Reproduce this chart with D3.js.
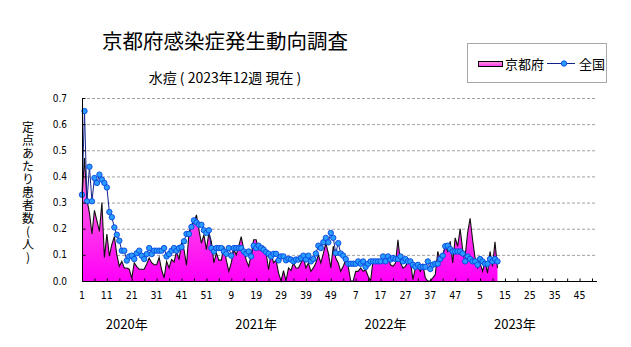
<!DOCTYPE html>
<html><head><meta charset="utf-8">
<script src="https://cdn.jsdelivr.net/npm/d3@7/dist/d3.min.js"></script>
<style>
body{margin:0;background:#fff}
svg{display:block}
.cjk{font-family:"Noto Sans CJK JP","Noto Sans",sans-serif}
.num{font-family:"Liberation Sans Narrow","DejaVu Sans Condensed","DejaVu Sans",sans-serif;font-stretch:condensed}
.vert{writing-mode:vertical-rl;text-orientation:upright}
</style>
</head><body>
<svg id="chart" width="631" height="347"></svg>
<script>
// ---- data ----
const titleText = "京都府感染症発生動向調査";
const subtitleText = "水痘 ( 2023年12週 現在 )";
const yAxisTitle = "定点あたり患者数(人)";
const seriesNames = ["京都府", "全国"];
const years = ["2020年", "2021年", "2022年", "2023年"];
const weeksPerYear = 52;
const yTickValues = [0, 0.1, 0.2, 0.3, 0.4, 0.5, 0.6, 0.7];

// 京都府 (weekly, from 2020 week 1)
const kyoto = [
  0.32,0.47,0.31,0.26,0.18,0.27,0.23,0.19,0.30,0.09,
  0.18,0.095,0.14,0.17,0.10,0.056,0.075,0.05,0.05,0.045,
  0.01,0.07,0.055,0.045,0.045,0.045,0.065,0.088,0.07,0.062,
  0.062,0.09,0.043,0.012,0.075,0.05,0.082,0.073,0.113,0.082,
  0.145,0.12,0.06,0.184,0.216,0.225,0.253,0.195,0.145,0.177,
  0.12,0.184,0.15,0.069,0.107,0.08,0.08,0.133,0.08,0.037,
  0.069,0.12,0.10,0.133,0.17,0.12,0.08,0.056,0.10,0.158,
  0.158,0.12,0.125,0.133,0.107,0.043,0.107,0.069,0.08,0.03,
  0.0,0.04,0.0,0.05,0.04,0.069,0.05,0.05,0.069,0.088,
  0.05,0.069,0.037,0.05,0.069,0.10,0.069,0.105,0.145,0.107,
  0.05,0.133,0.088,0.069,0.037,0.056,0.08,0.056,0.0,0.0,
  0.037,0.037,0.05,0.037,0.043,0.018,0.0,0.08,0.075,0.075,
  0.075,0.08,0.075,0.094,0.062,0.056,0.069,0.158,0.069,0.05,
  0.056,0.075,0.075,0.005,0.05,0.05,0.037,0.062,0.012,0.0,
  0.0,0.012,0.025,0.113,0.08,0.10,0.133,0.113,0.152,0.069,
  0.165,0.133,0.20,0.12,0.095,0.184,0.24,0.158,0.088,0.05,
  0.069,0.037,0.075,0.03,0.113,0.056,0.15,0.05
];

// 全国 (weekly, from 2020 week 1)
const national = [
  0.33,0.65,0.305,0.437,0.305,0.394,0.375,0.407,0.388,0.375,
  0.358,0.264,0.244,0.205,0.177,0.154,0.116,0.116,0.078,0.094,
  0.097,0.084,0.106,0.116,0.097,0.084,0.103,0.126,0.103,0.116,
  0.116,0.116,0.116,0.126,0.094,0.103,0.116,0.126,0.116,0.126,
  0.13,0.152,0.18,0.18,0.207,0.232,0.224,0.215,0.215,0.194,
  0.184,0.194,0.126,0.113,0.126,0.126,0.126,0.113,0.104,0.126,
  0.097,0.126,0.126,0.126,0.126,0.113,0.104,0.113,0.094,0.135,
  0.126,0.135,0.126,0.12,0.11,0.104,0.094,0.104,0.104,0.079,
  0.094,0.094,0.079,0.085,0.082,0.075,0.082,0.082,0.088,0.097,
  0.082,0.097,0.075,0.084,0.105,0.135,0.126,0.148,0.165,0.148,
  0.184,0.165,0.107,0.145,0.105,0.097,0.084,0.066,0.066,0.066,
  0.066,0.075,0.066,0.075,0.054,0.066,0.075,0.075,0.075,0.075,
  0.075,0.094,0.075,0.094,0.082,0.088,0.084,0.084,0.094,0.075,
  0.084,0.075,0.075,0.062,0.054,0.062,0.054,0.054,0.054,0.075,
  0.046,0.062,0.066,0.066,0.084,0.097,0.133,0.135,0.122,0.113,
  0.113,0.113,0.113,0.105,0.075,0.094,0.084,0.075,0.075,0.062,
  0.084,0.075,0.066,0.066,0.084,0.075,0.084,0.075
];

// ---- layout ----
const plot = {left: 82, right: 597, top: 98, bottom: 281};
const totalSlots = 207;

const svg = d3.select("#chart");
const x = d3.scaleLinear().domain([0, totalSlots]).range([plot.left, plot.right]);
const y = d3.scaleLinear().domain([0, 0.7]).range([plot.bottom, plot.top]);

// gradients
const defs = svg.append("defs");
const grad = defs.append("linearGradient").attr("id", "kg")
  .attr("gradientUnits", "userSpaceOnUse")
  .attr("x1", 0).attr("x2", 0).attr("y1", plot.top).attr("y2", plot.bottom);
grad.append("stop").attr("offset", "0%").attr("stop-color", "#ffb0e0");
grad.append("stop").attr("offset", "35%").attr("stop-color", "#ff78dc");
grad.append("stop").attr("offset", "100%").attr("stop-color", "#ff00f8");
const lg = defs.append("linearGradient").attr("id", "lg")
  .attr("x1", 0).attr("x2", 0).attr("y1", 0).attr("y2", 1);
lg.append("stop").attr("offset", "0%").attr("stop-color", "#ff9ee0");
lg.append("stop").attr("offset", "100%").attr("stop-color", "#ff33ee");

// gridlines
svg.append("g").selectAll("line").data(yTickValues.filter(v => v > 0)).join("line")
  .attr("x1", plot.left).attr("x2", plot.right)
  .attr("y1", d => y(d) + 0.5).attr("y2", d => y(d) + 0.5)
  .attr("stroke", "#a59ca5").attr("stroke-width", 1).attr("stroke-dasharray", "3,2");

// Kyoto area + line
const area = d3.area().x((d, i) => x(i)).y0(y(0)).y1(d => y(d));
svg.append("path").datum(kyoto).attr("d", area).attr("fill", "url(#kg)");
const line = d3.line().x((d, i) => x(i)).y(d => y(d));
svg.append("path").datum(kyoto).attr("d", line)
  .attr("fill", "none").attr("stroke", "#111").attr("stroke-width", 1.1);

// National line + markers
svg.append("path").datum(national).attr("d", line)
  .attr("fill", "none").attr("stroke", "#14238c").attr("stroke-width", 1);
svg.append("g").selectAll("circle").data(national).join("circle")
  .attr("cx", (d, i) => x(i)).attr("cy", d => y(d)).attr("r", 2.7)
  .attr("fill", "#2a9cff").attr("stroke", "#0645e0").attr("stroke-width", 0.9);

// axes
const yAxis = d3.axisRight(y).tickValues(yTickValues).tickSize(3).tickFormat("");
svg.append("g").attr("transform", `translate(${plot.left + 0.5},0)`).call(yAxis)
  .call(g => g.select(".domain").attr("stroke", "#000").attr("d", `M0,${plot.top}V${plot.bottom}`))
  .call(g => g.selectAll(".tick line").attr("stroke", "#000"));

const tickIdx = d3.range(0, totalSlots, 5);
const xAxis = d3.axisTop(x).tickValues(tickIdx).tickSize(3).tickFormat("");
svg.append("g").attr("transform", `translate(0,${plot.bottom + 0.5})`).call(xAxis)
  .call(g => g.select(".domain").attr("stroke", "#000").attr("d", `M${plot.left},0H${plot.right}`))
  .call(g => g.selectAll(".tick line").attr("stroke", "#000"));

// y tick labels
svg.append("g").selectAll("text").data(yTickValues).join("text")
  .attr("class", "num")
  .attr("x", 67).attr("y", d => y(d)).attr("dy", "0.35em")
  .attr("text-anchor", "end").attr("font-size", 10).attr("fill", "#000")
  .text(d => d.toFixed(1));

// x tick labels (every 10 weeks)
const labelIdx = d3.range(0, totalSlots, 10);
svg.append("g").selectAll("text").data(labelIdx).join("text")
  .attr("class", "num")
  .attr("x", d => x(d)).attr("y", 299)
  .attr("text-anchor", "middle").attr("font-size", 10.5).attr("fill", "#000")
  .text(d => (d % weeksPerYear) + 1);

// year labels
svg.append("g").selectAll("text").data(years).join("text")
  .attr("class", "cjk")
  .attr("x", (d, i) => x(i * weeksPerYear + 18)).attr("y", 329)
  .attr("text-anchor", "middle").attr("font-size", 13).attr("fill", "#000")
  .text(d => d);

// titles
svg.append("text").attr("class", "cjk").attr("x", 225).attr("y", 49)
  .attr("text-anchor", "middle").attr("font-size", 20.5).attr("fill", "#000").text(titleText);
svg.append("text").attr("class", "cjk").attr("x", 225).attr("y", 83)
  .attr("text-anchor", "middle").attr("font-size", 14).attr("fill", "#000")
  .attr("xml:space", "preserve").text(subtitleText);

// y axis title (vertical)
svg.append("text").attr("class", "cjk vert")
  .attr("x", 28).attr("y", 121)
  .attr("font-size", 12).attr("letter-spacing", 1).attr("fill", "#000")
  .text(yAxisTitle);

// legend
const leg = svg.append("g");
leg.append("rect").attr("x", 467.5).attr("y", 43.5).attr("width", 139).attr("height", 39)
  .attr("fill", "#fff").attr("stroke", "#a8a8a8").attr("stroke-width", 1);
leg.append("rect").attr("x", 478.5).attr("y", 61.5).attr("width", 24).attr("height", 5)
  .attr("fill", "url(#lg)").attr("stroke", "#000").attr("stroke-width", 1);
leg.append("text").attr("class", "cjk").attr("x", 505).attr("y", 64).attr("dy", "0.35em")
  .attr("font-size", 13).attr("fill", "#000").text(seriesNames[0]);
leg.append("line").attr("x1", 547).attr("x2", 575).attr("y1", 63.5).attr("y2", 63.5)
  .attr("stroke", "#14238c").attr("stroke-width", 1);
leg.append("circle").attr("cx", 564).attr("cy", 63.5).attr("r", 2.7)
  .attr("fill", "#2a9cff").attr("stroke", "#0645e0").attr("stroke-width", 0.9);
leg.append("text").attr("class", "cjk").attr("x", 579).attr("y", 64).attr("dy", "0.35em")
  .attr("font-size", 13).attr("fill", "#000").text(seriesNames[1]);
</script>
</body></html>
